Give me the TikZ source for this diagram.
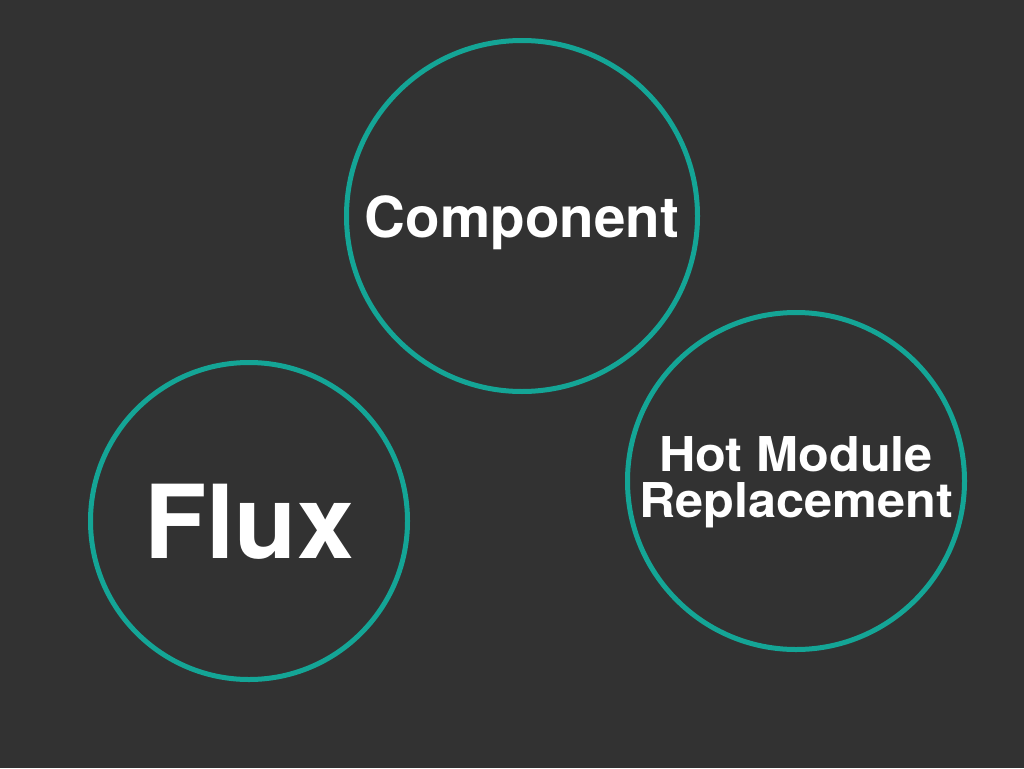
\documentclass[tikz,border=0pt]{standalone}
\usepackage{fontspec}
\setmainfont{TeX Gyre Heros}
\newfontfamily\widesans[FakeStretch=1.05]{TeX Gyre Heros}
\usepackage{xcolor}
\definecolor{slidebg}{HTML}{323232}
\definecolor{ringteal}{HTML}{14A596}
\usetikzlibrary{positioning}

\begin{document}
\begin{tikzpicture}[x=1pt,y=-1pt]
  \tikzset{
    ring/.style={
      circle,draw=ringteal,line width=5pt,inner sep=0pt
    },
    word/.style={
      text=white,font=\bfseries,anchor=base,inner sep=0pt
    },
  }
  \fill[slidebg] (0,0) rectangle (1024,768);
  \useasboundingbox (0,0) rectangle (1024,768);

  \node[ring,minimum size=351pt] (comp) at (522,216) {};
  \node[ring,minimum size=317pt] (flux) at (249,521) {};
  \node[ring,minimum size=337pt] (hmr) at (796,481) {};

  \node[word,font=\bfseries\fontsize{56.5}{60}\selectfont]
    (compname) at ([yshift=-21pt]comp.center) {Component};
  \node[word,font=\bfseries\fontsize{102}{110}\selectfont]
    (fluxname) at ([yshift=-37pt]flux.center) {Flux};
  \node[word,font=\widesans\fontsize{48}{45.5}\selectfont\bfseries,align=center,anchor=center]
    (hmrname) at ([yshift=-1pt]hmr.center) {Hot Module\\Replacement};
\end{tikzpicture}
\end{document}
